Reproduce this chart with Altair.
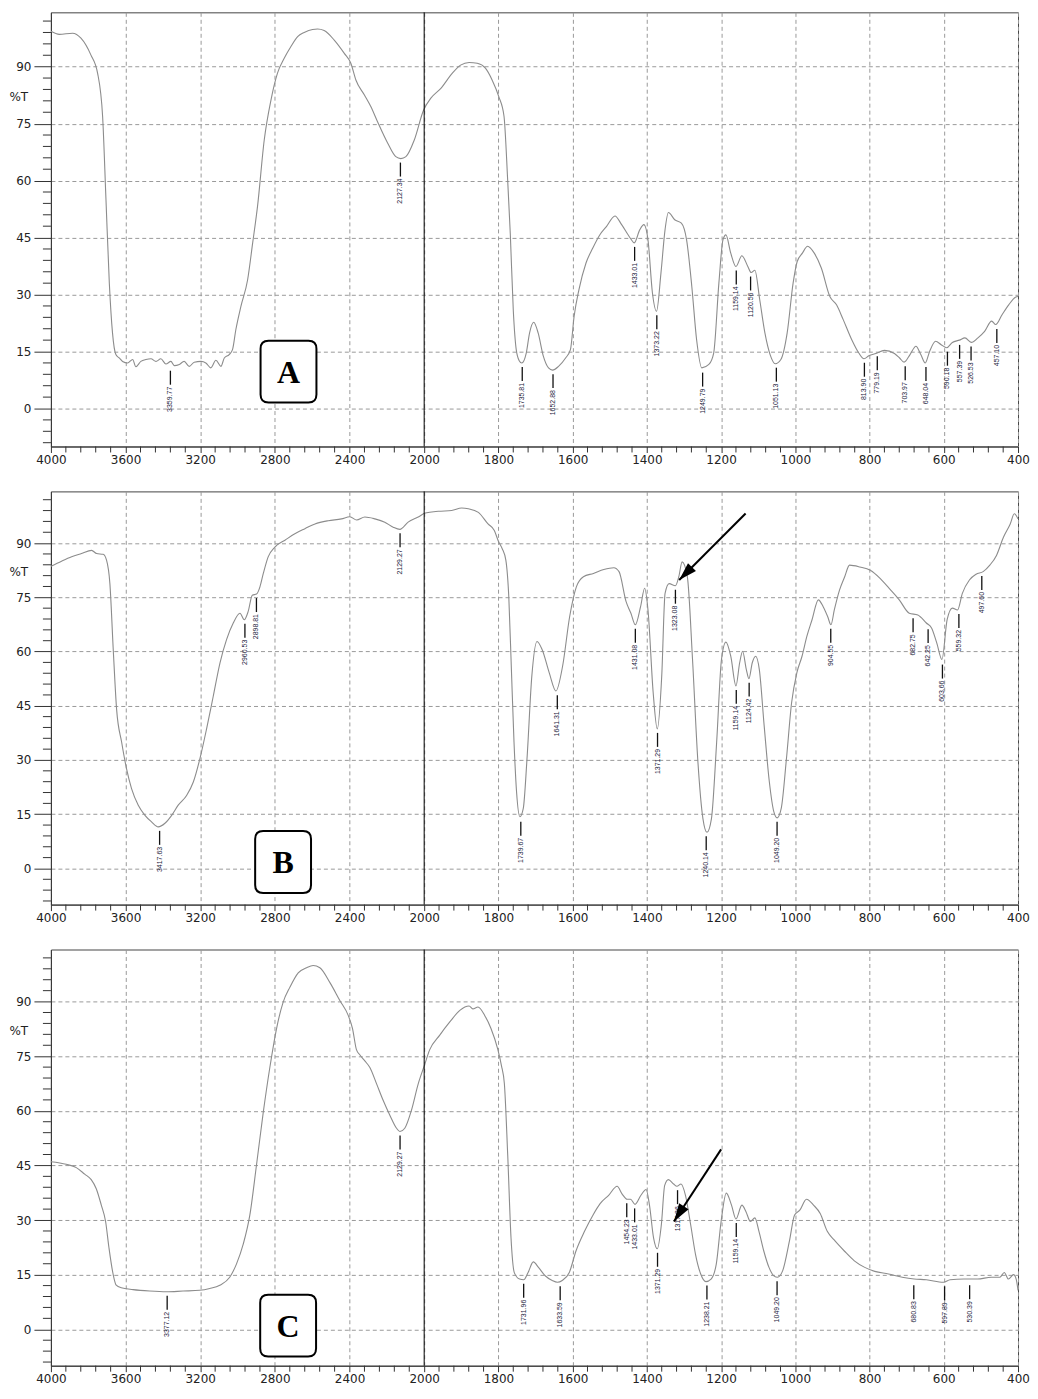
import altair as alt
import pandas as pd

# ---------------- Spectrum A ----------------
A_wn = [4000, 3955, 3884, 3839, 3786, 3750, 3723, 3705, 3687, 3670, 3652, 3634, 3616,
        3589, 3562, 3545, 3518, 3491, 3464, 3437, 3411, 3384, 3357, 3339, 3312, 3286, 3259,
        3232, 3196, 3170, 3143, 3116, 3089, 3071, 3045, 3027, 3009, 2982, 2946, 2919, 2893,
        2857, 2821, 2786, 2750, 2714, 2678, 2643, 2598, 2571, 2536, 2482, 2428, 2393, 2366,
        2321, 2286, 2250, 2196, 2152, 2125, 2098, 2053, 2003,
        1982, 1955, 1924, 1902, 1879, 1857, 1835, 1817, 1799, 1785, 1775, 1768, 1760, 1752,
        1744, 1737, 1725, 1716, 1705, 1693, 1679, 1665, 1654, 1638, 1619, 1606, 1596, 1583,
        1564, 1546, 1527, 1509, 1486, 1468, 1445, 1434, 1419, 1408, 1397, 1385, 1374, 1362,
        1351, 1342, 1325, 1307, 1293, 1279, 1266, 1252, 1233, 1220, 1206, 1195, 1187, 1174,
        1160, 1144, 1128, 1119, 1109, 1096, 1082, 1068, 1054, 1039, 1022, 1006, 995, 981,
        967, 949, 930, 907, 889, 871, 848, 829, 815, 802, 783, 760, 733, 719, 707, 691, 675,
        662, 650, 638, 622, 607, 592, 577, 558, 543, 526, 508, 490, 471, 460, 443, 425, 407, 400]
A_T = [99.3, 98.5, 98.8, 97.5, 93.1, 88.3, 76.9, 55.0, 33.0, 19.9, 14.2, 13.3, 12.4,
       12.0, 12.9, 11.0, 12.4, 12.9, 13.1, 12.4, 13.1, 11.7, 12.4, 11.3, 11.6, 12.4, 11.1,
       12.2, 12.4, 12.0, 10.7, 12.7, 11.1, 13.3, 14.2, 15.5, 20.8, 26.9, 33.9, 43.6, 53.2,
       70.7, 81.2, 88.3, 92.2, 95.3, 97.9, 99.0, 99.8, 99.9, 99.5, 97.0, 93.5, 90.9, 86.5,
       82.6, 79.5, 75.5, 69.9, 66.3, 65.8, 66.3, 70.7, 78.6,
       81.7, 84.3, 88.3, 90.4, 91.1, 90.9, 89.6, 86.5, 82.1, 77.0, 60.0, 46.0, 26.0, 15.5,
       12.6, 12.0, 14.6, 19.9, 22.7, 19.9, 13.8, 10.7, 10.1, 11.1, 13.3, 15.5, 24.3, 31.3,
       38.3, 42.2, 45.7, 47.9, 50.7, 48.4, 44.9, 43.6, 47.1, 48.4, 44.4, 30.4, 25.6, 35.7,
       47.1, 51.6, 49.7, 48.8, 44.4, 32.2, 18.1, 10.7, 11.6, 14.6, 33.0, 44.4, 45.7, 40.9,
       37.4, 40.2, 37.4, 35.8, 36.4, 28.7, 19.9, 14.2, 11.8, 12.9, 19.9, 33.0, 38.7, 40.9,
       42.7, 40.9, 37.0, 29.5, 27.3, 23.4, 18.1, 14.6, 13.1, 13.9, 14.5, 15.3, 14.5, 13.3,
       12.2, 14.2, 16.4, 14.2, 12.0, 15.1, 17.7, 16.8, 16.0, 17.4, 18.0, 18.6, 17.4, 18.6,
       20.3, 23.0, 22.1, 24.7, 27.3, 29.3, 29.5]
A_peak_wn = [3359.77, 2127.34, 1735.81, 1652.88, 1433.01, 1373.22, 1249.79, 1159.14, 1120.56,
             1051.13, 813.90, 779.19, 703.97, 648.04, 590.18, 557.39, 526.53, 457.10]
A_peak_T = [11.0, 65.8, 12.0, 10.1, 43.6, 25.6, 10.5, 37.4, 35.8,
            11.8, 13.1, 14.8, 12.2, 12.0, 16.0, 17.8, 17.4, 22.0]

# ---------------- Spectrum B ----------------
B_wn = [4000, 3943, 3889, 3836, 3782, 3755, 3720, 3702, 3684, 3666, 3648, 3621, 3595, 3568,
        3532, 3496, 3461, 3425, 3389, 3353, 3318, 3273, 3237, 3202, 3166, 3130, 3094, 3059,
        3023, 2987, 2964, 2943, 2921, 2898, 2880, 2862, 2836, 2800, 2746, 2693, 2639, 2585,
        2514, 2443, 2398, 2362, 2318, 2264, 2211, 2166, 2130, 2086, 2032, 1997, 1962, 1926,
        1899, 1881, 1854, 1828, 1811, 1800, 1790, 1780, 1772, 1765, 1758, 1751, 1742, 1733,
        1723, 1710, 1696, 1682, 1663, 1645, 1627, 1608, 1590, 1571, 1544, 1516, 1489, 1475,
        1456, 1443, 1431, 1417, 1406, 1397, 1383, 1372, 1360, 1351, 1340, 1323, 1314, 1305,
        1291, 1277, 1263, 1249, 1238, 1226, 1212, 1199, 1187, 1174, 1160, 1150, 1142, 1132,
        1125, 1116, 1107, 1097, 1084, 1070, 1058, 1049, 1038, 1024, 1010, 996, 982, 969, 955,
        938, 925, 913, 904, 895, 881, 867, 854, 826, 798, 771, 743, 720, 693, 670, 647, 633,
        619, 605, 591, 577, 563, 550, 531, 513, 494, 476, 458, 439, 421, 410, 400]
B_T = [83.6, 85.0, 86.2, 87.1, 88.0, 87.1, 86.9, 85.3, 78.8, 60.5, 44.0, 34.9, 27.6, 22.1,
       17.5, 14.7, 12.9, 11.5, 12.5, 14.7, 17.5, 20.2, 23.9, 30.3, 38.6, 47.7, 56.9, 63.3,
       67.9, 70.6, 68.8, 71.1, 75.6, 75.9, 77.9, 81.6, 86.2, 88.9, 90.8, 92.6, 94.0, 95.3,
       96.2, 96.7, 97.3, 96.4, 97.2, 96.7, 95.8, 94.4, 93.8, 95.8, 97.2, 98.3, 98.8, 99.0,
       99.7, 99.5, 98.5, 95.3, 93.5, 90.5, 88.5, 85.3, 75.0, 55.0, 35.0, 21.0, 14.3, 16.6,
       30.3, 53.2, 62.8, 60.5, 54.1, 49.1, 56.0, 69.7, 77.9, 80.7, 81.6, 82.7, 83.2, 82.1,
       73.8, 70.6, 67.4, 72.4, 77.5, 71.5, 48.6, 38.6, 53.2, 76.1, 78.8, 78.2, 80.7, 84.8,
       80.7, 57.8, 30.3, 13.8, 10.0, 13.8, 34.9, 57.8, 62.6, 58.7, 50.5, 56.9, 60.1, 55.0,
       52.5, 56.9, 58.7, 55.0, 39.5, 23.9, 15.7, 14.0, 16.6, 30.3, 45.9, 54.1, 58.7, 64.2,
       68.8, 74.3, 72.4, 69.7, 67.4, 71.5, 77.0, 80.7, 83.9, 83.4, 82.5, 80.2, 77.0, 74.3,
       70.6, 70.1, 67.9, 66.5, 62.4, 57.8, 68.8, 72.0, 71.5, 76.1, 79.8, 81.4, 82.1, 83.9,
       86.6, 91.7, 95.3, 98.1, 96.7]
B_peak_wn = [3417.63, 2960.53, 2898.81, 2129.27, 1739.67, 1641.31, 1431.08, 1371.29, 1323.08,
             1240.14, 1159.14, 1124.42, 1049.20, 904.55, 682.75, 642.25, 603.66, 559.32, 497.60]
B_peak_T = [11.5, 68.8, 75.9, 93.8, 14.0, 49.0, 67.4, 38.6, 78.2,
            10.0, 50.5, 52.5, 14.0, 67.4, 70.3, 67.3, 57.5, 71.5, 82.0]

# ---------------- Spectrum C ----------------
C_wn = [4000, 3918, 3864, 3819, 3784, 3757, 3730, 3707, 3689, 3667, 3650, 3623, 3560, 3471,
        3381, 3292, 3203, 3149, 3095, 3042, 3006, 2970, 2934, 2899, 2863, 2827, 2791, 2756,
        2720, 2675, 2630, 2595, 2559, 2505, 2452, 2407, 2384, 2363, 2345, 2318, 2291, 2255,
        2220, 2184, 2148, 2130, 2104, 2068, 2032, 2000, 1985, 1958, 1931, 1904, 1879, 1869,
        1855, 1837, 1820, 1802, 1792, 1784, 1775, 1766, 1757, 1743, 1732, 1720, 1706, 1692,
        1674, 1655, 1641, 1628, 1609, 1591, 1568, 1545, 1526, 1503, 1480, 1467, 1453, 1444,
        1432, 1416, 1402, 1393, 1382, 1372, 1361, 1352, 1342, 1328, 1319, 1308, 1296, 1282,
        1269, 1255, 1241, 1227, 1213, 1200, 1186, 1172, 1160, 1144, 1133, 1121, 1109, 1098,
        1085, 1071, 1057, 1048, 1034, 1016, 1002, 988, 970, 951, 933, 914, 896, 868, 841,
        813, 786, 749, 712, 680, 647, 601, 583, 546, 509, 472, 449, 437, 426, 412, 405, 400]
C_T = [46.0, 45.3, 44.4, 42.6, 41.1, 38.6, 34.1, 29.6, 22.4, 15.2, 12.1, 11.4, 10.9, 10.5,
       10.3, 10.5, 10.7, 11.2, 12.1, 14.3, 17.9, 23.3, 31.4, 44.9, 59.3, 71.9, 82.6, 89.8,
       93.9, 97.9, 99.3, 99.9, 99.3, 95.2, 90.3, 86.2, 82.6, 76.8, 75.4, 73.7, 71.9, 67.4,
       62.9, 58.8, 55.2, 54.3, 55.2, 60.2, 67.4, 72.3, 76.8, 80.8, 84.4, 87.6, 88.8, 88.0,
       88.5, 86.2, 82.6, 77.0, 72.5, 67.5, 48.0, 25.0, 15.5, 13.8, 13.6, 15.6, 18.5, 17.0,
       14.7, 13.4, 12.9, 13.4, 15.6, 21.5, 26.9, 31.4, 34.5, 36.8, 39.3, 37.2, 35.7, 35.7,
       34.3, 36.8, 38.4, 34.1, 25.1, 22.1, 28.7, 39.5, 41.1, 39.9, 39.3, 39.9, 36.8, 28.7,
       20.6, 15.2, 13.1, 13.8, 17.9, 29.6, 37.4, 34.1, 30.3, 34.1, 32.3, 29.6, 30.6, 26.9,
       21.5, 17.0, 14.6, 14.3, 16.1, 24.2, 31.4, 32.7, 35.7, 34.1, 31.8, 26.9, 24.6, 21.5,
       18.8, 17.0, 15.9, 15.2, 14.3, 13.8, 13.6, 12.9, 13.6, 13.8, 13.8, 14.3, 14.3, 15.6,
       13.8, 15.0, 13.8, 10.7]
C_peak_wn = [3377.12, 2129.27, 1731.96, 1633.59, 1454.23, 1433.01, 1371.29, 1317.36, 1238.21,
             1159.14, 1049.20, 680.83, 597.89, 530.39]
C_peak_T = [10.3, 54.3, 13.6, 12.9, 35.7, 34.3, 22.1, 39.3, 13.1,
            30.3, 14.3, 13.2, 12.9, 13.2]

# panel letters (position in data units)
box_letters = ["A", "B", "C"]
box_wn = [2727, 2756, 2729]
box_T = [9.7, 1.8, 1.0]

# arrows (start -> tip, data units) for B and C
arrow_B = {"x1": 1134, "y1": 98.2, "x2": 1313, "y2": 79.8}
arrow_C = {"x1": 1200, "y1": 49.4, "x2": 1327, "y2": 29.6}

# axis ticks / labels
x_major = [4000, 3600, 3200, 2800, 2400, 2000, 1800, 1600, 1400, 1200, 1000, 800, 600, 400]
y_major = [0, 15, 30, 45, 60, 75, 90]
x_minor = [v for v in list(range(4000, 1999, -80)) + list(range(1960, 399, -40))
           if v not in x_major]
y_minor = [v for v in range(-9, 105, 3) if v % 15 != 0]
x_break = [2000]

X_DOMAIN = [4000, 2000, 400]
Y_DOMAIN = [-10, 104.3]
W = 969
BREAK_PX = 374

FONT = "DejaVu Sans"
LBL_COLOR = "#1c2340"
ROUNDED_BOX = ("M-0.645,-1 L0.645,-1 Q0.903,-1 0.903,-0.742 L0.903,0.742 Q0.903,1 0.645,1 "
               "L-0.645,1 Q-0.903,1 -0.903,0.742 L-0.903,-0.742 Q-0.903,-1 -0.645,-1 Z")
ARROW_HEAD = "M0,0 L0.62,2 L-0.62,2 Z"

X_SCALE = alt.Scale(domain=X_DOMAIN, range=[0, BREAK_PX, W], nice=False, zero=False)
Y_SCALE = alt.Scale(domain=Y_DOMAIN, nice=False, zero=False)

X_AXIS = alt.Axis(
    values=x_major, format="d", tickSize=6, tickColor="#333", domainColor="#333",
    labelFont=FONT, labelFontSize=12, labelColor="#222", labelPadding=2,
    labelFlush=False, labelOverlap=False, grid=True, gridColor="#9a9a9a",
    gridDash=[4, 3], gridWidth=1, title=None)


def y_axis(title_y):
    return alt.Axis(
        values=y_major, tickSize=17, tickColor="#333", domainColor="#333",
        labelFont=FONT, labelFontSize=12, labelColor="#222", labelPadding=3,
        grid=True, gridColor="#9a9a9a", gridDash=[4, 3], gridWidth=1,
        title="%T", titleAngle=0, titleX=-42, titleY=title_y, titleAlign="left",
        titleBaseline="middle", titleFont=FONT, titleFontSize=12,
        titleFontWeight="normal", titleColor="#222")


def panel(wn, T, pk_wn, pk_T, letter, bwn, bT, height, title_y, arrow=None, arrow_angle=225):
    YA = y_axis(title_y)

    def X(f):
        return alt.X(f, scale=X_SCALE, axis=X_AXIS)

    def Y(f):
        return alt.Y(f, scale=Y_SCALE, axis=YA)

    df = pd.DataFrame({"wn": wn, "T": T})
    df["ord"] = range(len(df))
    pk = pd.DataFrame({"wn": pk_wn, "T": pk_T,
                       "lbl": [f"{w:.2f}" for w in pk_wn]})

    line = alt.Chart(df).mark_line(color="#8c8c8c", strokeWidth=1.1,
                                   interpolate="monotone").encode(
        x=X("wn:Q"), y=Y("T:Q"), order="ord:Q")

    brk = alt.Chart(pd.DataFrame({"wn": x_break})).mark_rule(
        color="black", strokeWidth=1).encode(x=X("wn:Q"))

    yminor = alt.Chart(pd.DataFrame({"T": y_minor})).mark_rule(
        color="#333", strokeWidth=1).encode(
        y=Y("T:Q"), x=alt.value(-8), x2=alt.value(0))

    xminor = alt.Chart(pd.DataFrame({"wn": x_minor})).mark_rule(
        color="#333", strokeWidth=1).encode(
        x=X("wn:Q"), y=alt.value(height), y2=alt.value(height + 6))

    pk_rule = alt.Chart(pk).mark_rule(color="#111", strokeWidth=1.3,
                                      yOffset=4, y2Offset=18).encode(
        x=X("wn:Q"), y=Y("T:Q"), y2=alt.Y2("T"))

    pk_text = alt.Chart(pk).mark_text(angle=270, align="right", baseline="middle",
                                      yOffset=20, fontSize=7, font="Liberation Sans",
                                      color=LBL_COLOR).encode(
        x=X("wn:Q"), y=Y("T:Q"), text="lbl:N")

    bdf = pd.DataFrame({"wn": [bwn], "T": [bT], "t": [letter]})
    box = alt.Chart(bdf).mark_point(shape=ROUNDED_BOX, size=3844, filled=True,
                                    fill="white", stroke="black", strokeWidth=2,
                                    opacity=1, fillOpacity=1, strokeOpacity=1).encode(
        x=X("wn:Q"), y=Y("T:Q"))
    letter_txt = alt.Chart(bdf).mark_text(font="Liberation Serif", fontSize=32,
                                          fontWeight="bold", color="black",
                                          align="center", baseline="middle", dy=1).encode(
        x=X("wn:Q"), y=Y("T:Q"), text="t:N")

    layers = [line, brk, yminor, xminor, pk_rule, pk_text, box, letter_txt]

    if arrow is not None:
        adf = pd.DataFrame([{"wn": arrow["x1"], "T": arrow["y1"],
                             "wn2": arrow["x2"], "T2": arrow["y2"]}])
        a_line = alt.Chart(adf).mark_rule(color="black", strokeWidth=2).encode(
            x=X("wn:Q"), x2="wn2:Q", y=Y("T:Q"), y2="T2:Q")
        a_head = alt.Chart(adf).mark_point(shape=ARROW_HEAD, size=330, filled=True,
                                           color="black", opacity=1,
                                           angle=arrow_angle).encode(
            x=X("wn2:Q"), y=Y("T2:Q"))
        layers += [a_line, a_head]

    return alt.layer(*layers).properties(width=W, height=height)


pA = panel(A_wn, A_T, A_peak_wn, A_peak_T, box_letters[0], box_wn[0], box_T[0], 435, 84)
pB = panel(B_wn, B_T, B_peak_wn, B_peak_T, box_letters[1], box_wn[1], box_T[1], 414, 80,
           arrow=arrow_B, arrow_angle=225)
pC = panel(C_wn, C_T, C_peak_wn, C_peak_T, box_letters[2], box_wn[2], box_T[2], 417, 81,
           arrow=arrow_C, arrow_angle=213)

chart = alt.vconcat(pA, pB, pC, spacing=24).properties(
    padding={"left": 0, "top": 2, "right": 0, "bottom": 0},
    background="white"
).configure_view(stroke="#444", strokeWidth=1)

chart.save("out.html", embed_options={"renderer": "svg", "actions": False})
